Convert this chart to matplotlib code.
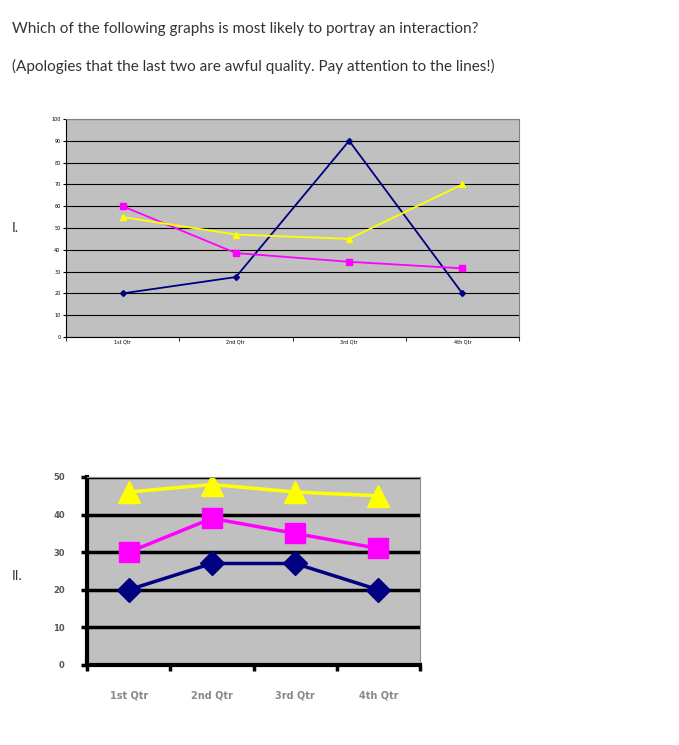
import matplotlib
matplotlib.use("Agg")
import matplotlib.pyplot as plt

quarters = ["1st Qtr", "2nd Qtr", "3rd Qtr", "4th Qtr"]
g1_blue = [20, 27.5, 90, 20]
g1_pink = [60, 38.5, 34.5, 31.5]
g1_yellow = [55, 47, 45, 70]
g2_blue = [20, 27, 27, 20]
g2_pink = [30, 39, 35, 31]
g2_yellow = [46, 48, 46, 45]
y1_ticks = list(range(0, 101, 10))
y2_ticks = list(range(0, 51, 10))

NAVY, PINK, YEL = "#000080", "#ff00ff", "#ffff00"
fig = plt.figure(figsize=(6.79, 7.45), dpi=100)
fig.text(12/679, 1-29/745, "Which of the following graphs is most likely to portray an interaction?",
         fontsize=11, family="Lato", color="#333333", va="center")
fig.text(12/679, 1-66/745, "(Apologies that the last two are awful quality. Pay attention to the lines!)",
         fontsize=11, family="Lato", color="#333333", va="center")
fig.text(12/679, 1-228/745, "I.", fontsize=10, family="Lato", color="#333333", va="center")
fig.text(12/679, 1-576/745, "II.", fontsize=10, family="Lato", color="#333333", va="center")

x = range(len(quarters))
ax1 = fig.add_axes([66/679, 1-337/745, 453/679, 218/745])
ax1.set_facecolor("#c0c0c0")
ax1.plot(x, g1_blue, color=NAVY, marker="D", ms=3, lw=1.3)
ax1.plot(x, g1_pink, color=PINK, marker="s", ms=4, lw=1.3)
ax1.plot(x, g1_yellow, color=YEL, marker="^", ms=4, lw=1.3)
ax1.set_xlim(-0.5, 3.5); ax1.set_ylim(0, 100)
ax1.set_yticks(y1_ticks)
ax1.set_yticklabels([str(v) for v in y1_ticks], fontsize=3.5)
ax1.set_xticks(x); ax1.set_xticklabels(quarters, fontsize=3.5)
ax1.set_xticks([-0.5, 0.5, 1.5, 2.5, 3.5], minor=True)
ax1.tick_params(axis="x", which="major", length=0, pad=2)
ax1.tick_params(axis="x", which="minor", length=3)
ax1.tick_params(axis="y", length=2, pad=2)
ax1.grid(axis="y", color="black", lw=0.8)
ax1.set_axisbelow(True)
for s in ["top", "right"]:
    ax1.spines[s].set_color("#808080")

ax2 = fig.add_axes([87/679, 1-665/745, 333/679, 188/745])
ax2.set_facecolor("#c0c0c0")
ax2.plot(x, g2_blue, color=NAVY, marker="D", ms=12, lw=2.5)
ax2.plot(x, g2_pink, color=PINK, marker="s", ms=14, lw=2.5)
ax2.plot(x, g2_yellow, color=YEL, marker="^", ms=16, lw=2.5)
ax2.set_xlim(-0.5, 3.5); ax2.set_ylim(0, 50)
ax2.set_yticks(y2_ticks)
ax2.set_yticklabels([str(v) for v in y2_ticks], fontsize=6, color="#555555", weight="bold")
ax2.set_xticks(x); ax2.set_xticklabels(quarters, fontsize=7, color="#888888", weight="bold")
ax2.set_xticks([-0.5, 0.5, 1.5, 2.5, 3.5], minor=True)
ax2.tick_params(axis="x", which="major", length=0, pad=18)
ax2.tick_params(axis="x", which="minor", length=4, width=2.5)
ax2.tick_params(axis="y", length=4, width=2.5, pad=12)
ax2.grid(axis="y", color="black", lw=2.5)
ax2.set_axisbelow(True)
ax2.spines["left"].set_linewidth(3)
ax2.spines["bottom"].set_linewidth(3)
ax2.spines["top"].set_color("#909090")
ax2.spines["right"].set_color("#909090")

fig.savefig("out.png", dpi=100, facecolor="white")
